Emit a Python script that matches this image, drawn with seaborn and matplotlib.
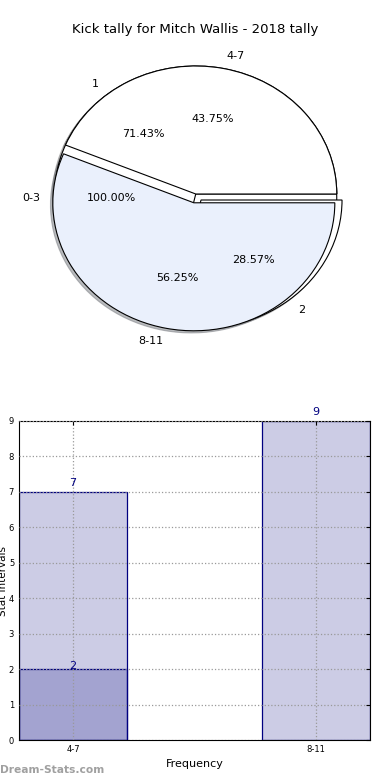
import matplotlib
matplotlib.use('Agg')
import matplotlib.pyplot as plt
import seaborn as sns
import pandas as pd

# pie data
outer_labels = ['4-7', '8-11']
outer_values = [7, 9]
mid_labels = ['1', '2']
mid_values = [5, 2]
inner_labels = ['0-3']
inner_values = [1]

# bar data
bar_cats = ['4-7', '8-11']
bar_back = [7, 9]
bar_front_cats = ['4-7']
bar_front = [2]

sns.set_style('white')
plt.rcParams['font.family'] = ['DejaVu Sans']
plt.rcParams['text.color'] = 'black'

fig = plt.figure(figsize=(3.9, 7.8), dpi=100)

# ---- pie ----
ax1 = fig.add_axes([19.5 / 390, 1 - (194 + 160) / 780, 352.5 / 390, 320 / 780])
wp = dict(edgecolor='black', linewidth=0.8)
tp = dict(fontsize=8, color='black')
shd = dict(ox=-0.012, oy=-0.012, shade=0.5)
ax1.pie(inner_values, labels=inner_labels, colors=['white'], autopct='%.2f%%',
        shadow=shd, wedgeprops=wp, textprops=tp, center=(0, -0.03))
ax1.pie(mid_values, labels=mid_labels, colors=['white', 'white'], explode=(0, 0.06),
        autopct='%.2f%%', shadow=shd, wedgeprops=wp, textprops=tp)
ax1.pie(outer_values, labels=outer_labels, colors=['white', '#EAF0FC'], explode=(0, 0.07),
        autopct='%.2f%%', shadow=shd, wedgeprops=wp, textprops=tp)
ax1.set_aspect('auto')
ax1.set_xlim(-1.25, 1.25)
ax1.set_ylim(-1.25, 1.25)
fig.text(0.5, 1 - 30 / 780, 'Kick tally for Mitch Wallis - 2018 tally',
         ha='center', va='center', fontsize=9.5, color='black')

# ---- bars ----
ax2 = fig.add_axes([19 / 390, 40 / 780, 351 / 390, 319 / 780])
df_back = pd.DataFrame({'cat': bar_cats, 'val': bar_back})
df_front = pd.DataFrame({'cat': bar_front_cats, 'val': bar_front})
bar_face = (0, 0, 0.5, 0.2)
sns.barplot(data=df_back, x='cat', y='val', order=bar_cats, width=0.444,
            color='navy', edgecolor='navy', linewidth=0.9,
            saturation=1, errorbar=None, ax=ax2)
sns.barplot(data=df_front, x='cat', y='val', order=bar_cats, width=0.444,
            color='navy', edgecolor='navy', linewidth=0.9,
            saturation=1, errorbar=None, ax=ax2)
for p in ax2.patches:
    p.set_facecolor(bar_face)
    p.set_edgecolor((0, 0, 0.5, 1))
for i, v in enumerate(bar_back):
    ax2.text(i, v + 0.1, str(v), ha='center', va='bottom', color='navy', fontsize=8)
for c, v in zip(bar_front_cats, bar_front):
    ax2.text(bar_cats.index(c), v - 0.05, str(v), ha='center', va='bottom',
             color='navy', fontsize=8)
ax2.set_xlim(-0.222, 1.222)
ax2.set_ylim(0, 9)
ax2.set_yticks(range(0, 10))
ax2.tick_params(axis='both', labelsize=6, length=3, direction='in',
                top=True, right=True, colors='black')
ax2.grid(True, linestyle=':', color='#999999', linewidth=0.9)
ax2.set_axisbelow(False)
for s in ax2.spines.values():
    s.set_color('black')
    s.set_linewidth(0.8)
ax2.set_xlabel('Frequency', fontsize=8, labelpad=4, color='black')
ax2.set_ylabel('Stat intervals', fontsize=7.5, color='black')
ax2.yaxis.set_label_coords(-0.03, 0.5)

fig.text(0.0, 1 - 770 / 780, 'Dream-Stats.com', ha='left', va='center',
         fontsize=7.7, fontweight='bold', color='#a0a0a0')

fig.savefig('out.png', dpi=100)
